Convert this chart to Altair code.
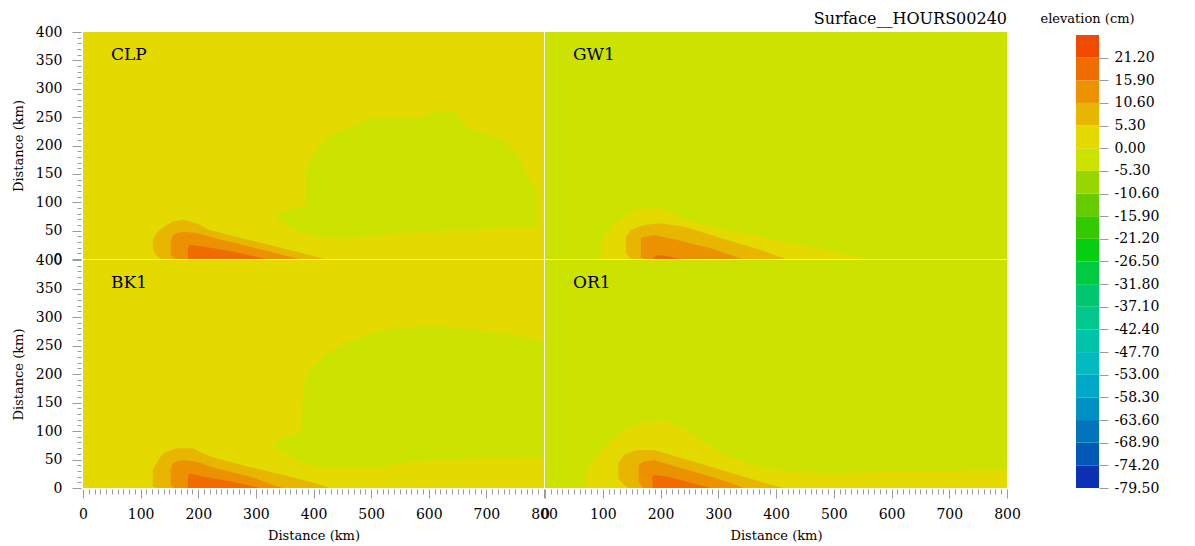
import altair as alt
import pandas as pd

FONT = "DejaVu Serif"

# colour bar boundaries (cm), bottom to top, and the colour of each band
CB_BOUNDS = [-79.5, -74.2, -68.9, -63.6, -58.3, -53.0, -47.7, -42.4, -37.1, -31.8,
             -26.5, -21.2, -15.9, -10.6, -5.3, 0.0, 5.3, 10.6, 15.9, 21.2, 26.5]
CB_TICKS = [-79.5, -74.2, -68.9, -63.6, -58.3, -53.0, -47.7, -42.4, -37.1, -31.8,
            -26.5, -21.2, -15.9, -10.6, -5.3, 0.0, 5.3, 10.6, 15.9, 21.2]
CB_COLORS = ["#0A32B2", "#0058B8", "#0074BE", "#0090C4", "#00A8C8", "#00BCC0",
             "#00C4A8", "#00C690", "#00C870", "#00CA40", "#06CE10", "#34CA00",
             "#66CC00", "#98D600", "#CCE200", "#E4DA00", "#E8B600", "#EC9200",
             "#F06C00", "#F04A00"]
LEVEL_KEYS = ["%.2f" % v for v in CB_BOUNDS[:-1]]

X_TICKS = list(range(0, 801, 10))
Y_TICKS = list(range(0, 401, 10))

PANELS = ["CLP", "GW1", "BK1", "OR1"]
BACKGROUND = {"CLP": 0.0, "GW1": -5.3, "BK1": 0.0, "OR1": -5.3}
FULL_X = [0, 800]
FULL_LO = [0, 0]
FULL_HI = [400, 400]

# ---- contour regions: (level, x, lower y, upper y) ----
CLP_BLOB_X = [336, 363, 387, 388, 398, 410, 427, 439, 462, 473, 497, 526, 537, 578,
              606, 618, 641, 647, 653, 664, 711, 734, 751, 763, 774, 783, 789]
CLP_BLOB_LO = [70, 54, 45, 45, 42, 39, 38, 37, 36, 37, 40, 44, 45, 48,
               50, 50, 51, 51, 52, 52, 54, 55, 55, 56, 56, 57, 57]
CLP_BLOB_HI = [80, 89, 95, 160, 183, 198, 215, 224, 231, 236, 248, 251, 250, 248,
               257, 261, 261, 255, 248, 233, 218, 207, 186, 166, 142, 127, 113]
CLP_W1_X = [121, 125, 136, 156, 174, 197, 220, 289, 347, 417, 420]
CLP_W1_LO = [20, 8, 0, 0, 0, 0, 0, 0, 0, 0, 0]
CLP_W1_HI = [33, 42, 54, 66, 69, 63, 51, 33.5, 19, 1, 0]
CLP_W2_X = [152, 156, 160, 174, 197, 231, 289, 347, 376]
CLP_W2_LO = [7, 3, 0, 0, 0, 0, 0, 0, 0]
CLP_W2_HI = [33, 42, 45, 48, 46, 36, 22, 7, 0]
CLP_W3_X = [182, 185, 208, 260, 318]
CLP_W3_LO = [0, 0, 0, 0, 0]
CLP_W3_HI = [20, 25, 22, 13, 0]

GW1_Y_X = [96, 100, 114, 143, 171, 200, 223, 241, 316, 402, 489, 518, 560]
GW1_Y_LO = [0, 0, 0, 0, 0, 0, 0, 0, 0, 0, 0, 0, 0]
GW1_Y_HI = [22, 35, 57, 80.5, 89, 89, 80.5, 69, 51, 33.5, 16, 9, 0]
GW1_W1_X = [140, 148, 171, 200, 241, 316, 374, 414, 418]
GW1_W1_LO = [10, 0, 0, 0, 0, 0, 0, 0, 0]
GW1_W1_HI = [39, 51, 60, 63, 57, 33.5, 16, 1, 0]
GW1_W2_X = [166, 171, 189, 229, 287, 322, 340]
GW1_W2_LO = [3, 0, 0, 0, 0, 0, 0]
GW1_W2_HI = [36, 39, 42, 33.5, 19, 7, 0]
GW1_W3_X = [188, 195, 215, 235]
GW1_W3_LO = [0, 0, 0, 0]
GW1_W3_HI = [3, 7, 5, 0]

BK1_BLOB_X = [332, 363, 380, 381, 387, 395, 421, 456, 479, 497, 537, 549, 606, 612, 682, 711, 769, 800]
BK1_BLOB_LO = [70, 55, 44, 44, 42, 40, 37, 35, 34.5, 36, 41, 43, 49, 49, 52, 53, 54, 55]
BK1_BLOB_HI = [79, 93, 101, 154, 195, 207, 236, 254, 263, 271, 280, 281, 286, 286, 278, 274, 265, 257]
BK1_W1_X = [121, 130, 139, 162, 191, 208, 231, 289, 347, 405, 428]
BK1_W1_LO = [2, 0, 0, 0, 0, 0, 0, 0, 0, 0, 0]
BK1_W1_HI = [32, 48, 61, 69.6, 69.6, 61, 52, 37, 23, 8, 0]
BK1_W2_X = [152, 156, 160, 174, 197, 231, 289, 324, 347]
BK1_W2_LO = [5, 2, 0, 0, 0, 0, 0, 0, 0]
BK1_W2_HI = [33, 43, 46, 49, 46, 34.5, 20, 8, 0]
BK1_W3_X = [182, 185, 208, 260, 307]
BK1_W3_LO = [0, 0, 0, 0, 0]
BK1_W3_HI = [20, 25.7, 20, 11, 0]

OR1_Y_X = [70, 79, 102, 131, 166, 206, 235, 270, 316, 374, 431, 489, 575, 800]
OR1_Y_LO = [0, 0, 0, 0, 0, 0, 0, 0, 0, 0, 0, 0, 0, 0]
OR1_Y_HI = [29, 43, 72.5, 99, 116, 119, 107.6, 84, 55, 37, 28.6, 25.7, 28.6, 31.6]
OR1_W1_X = [127, 137, 145, 160, 189, 218, 258, 316, 374, 413]
OR1_W1_LO = [17, 5, 0, 0, 0, 0, 0, 0, 0, 0]
OR1_W1_HI = [43, 58, 62, 66.7, 66.7, 58, 46, 28.6, 11, 0]
OR1_W2_X = [162, 166, 170, 189, 229, 287, 333, 344]
OR1_W2_LO = [12, 5, 0, 0, 0, 0, 0, 0]
OR1_W2_HI = [40, 43, 46, 49, 37, 20, 5, 0]
OR1_W3_X = [186, 189, 212, 258, 287]
OR1_W3_LO = [0, 0, 0, 0, 0]
OR1_W3_HI = [20, 23, 20, 8, 0]

REGIONS = {
    "CLP": [(-5.3, CLP_BLOB_X, CLP_BLOB_LO, CLP_BLOB_HI),
            (5.3, CLP_W1_X, CLP_W1_LO, CLP_W1_HI),
            (10.6, CLP_W2_X, CLP_W2_LO, CLP_W2_HI),
            (15.9, CLP_W3_X, CLP_W3_LO, CLP_W3_HI)],
    "GW1": [(0.0, GW1_Y_X, GW1_Y_LO, GW1_Y_HI),
            (5.3, GW1_W1_X, GW1_W1_LO, GW1_W1_HI),
            (10.6, GW1_W2_X, GW1_W2_LO, GW1_W2_HI),
            (15.9, GW1_W3_X, GW1_W3_LO, GW1_W3_HI)],
    "BK1": [(-5.3, BK1_BLOB_X, BK1_BLOB_LO, BK1_BLOB_HI),
            (5.3, BK1_W1_X, BK1_W1_LO, BK1_W1_HI),
            (10.6, BK1_W2_X, BK1_W2_LO, BK1_W2_HI),
            (15.9, BK1_W3_X, BK1_W3_LO, BK1_W3_HI)],
    "OR1": [(0.0, OR1_Y_X, OR1_Y_LO, OR1_Y_HI),
            (5.3, OR1_W1_X, OR1_W1_LO, OR1_W1_HI),
            (10.6, OR1_W2_X, OR1_W2_LO, OR1_W2_HI),
            (15.9, OR1_W3_X, OR1_W3_LO, OR1_W3_HI)],
}

color_scale = alt.Scale(domain=LEVEL_KEYS, range=CB_COLORS)
xs = alt.Scale(domain=[0, 800], nice=False, zero=False)
ys = alt.Scale(domain=[0, 400], nice=False, zero=False)

common_axis = dict(domain=False, grid=False, tickColor="#9c9c9c", labelFont=FONT,
                   labelFontSize=14, labelColor="black", titleFont=FONT,
                   titleFontSize=13, titleFontWeight="normal", titleColor="black",
                   labelFlush=False, labelOverlap=False, labelBound=False)

x_axis = alt.Axis(values=X_TICKS, format="d",
                  labelExpr="datum.value % 100 === 0 ? datum.label : ''",
                  tickSize={"condition": {"test": "datum.value % 100 === 0", "value": 9}, "value": 5},
                  labelPadding=9, titlePadding=8, offset=1, **common_axis)
y_axis = alt.Axis(values=Y_TICKS, format="d",
                  labelExpr="datum.value % 50 === 0 ? datum.label : ''",
                  tickSize={"condition": {"test": "datum.value % 50 === 0", "value": 9}, "value": 4},
                  labelPadding=10, titlePadding=10, offset=2, **common_axis)


def region_layer(level, xv, lo, hi, show_x, show_y):
    df = pd.DataFrame({"x": xv, "lo": lo, "hi": hi, "level": "%.2f" % level})
    return alt.Chart(df).mark_area(interpolate="linear", strokeWidth=0).encode(
        x=alt.X("x:Q", scale=xs, axis=x_axis if show_x else None, title="Distance (km)"),
        y=alt.Y("lo:Q", scale=ys, axis=y_axis if show_y else None, title="Distance (km)"),
        y2=alt.Y2("hi:Q"),
        color=alt.Color("level:N", scale=color_scale, legend=None),
    )


def panel(name, show_x, show_y, width, height, title=None):
    layers = [region_layer(BACKGROUND[name], FULL_X, FULL_LO, FULL_HI, show_x, show_y)]
    for lvl, xv, lo, hi in REGIONS[name]:
        layers.append(region_layer(lvl, xv, lo, hi, show_x, show_y))
    label = alt.Chart(pd.DataFrame({"name": [name]})).mark_text(
        align="left", baseline="middle", font=FONT, fontSize=17, color="black"
    ).encode(text="name:N", x=alt.value(28), y=alt.value(23))
    layers.append(label)
    props = dict(width=width, height=height)
    if title:
        props["title"] = alt.TitleParams(title, anchor="end", font=FONT, fontSize=16,
                                         fontWeight="normal", color="black", offset=5)
    return alt.layer(*layers).properties(**props)


grid = alt.concat(
    panel("CLP", False, True, 461, 227),
    panel("GW1", False, False, 462, 227, "Surface__HOURS00240"),
    panel("BK1", True, True, 461, 228),
    panel("OR1", True, False, 462, 228),
    columns=2, spacing=1, bounds="flush",
)

cb_df = pd.DataFrame({"lo": CB_BOUNDS[:-1], "hi": CB_BOUNDS[1:], "level": LEVEL_KEYS})
colorbar = alt.Chart(cb_df).mark_rect(strokeWidth=0).encode(
    x=alt.value(0), x2=alt.value(23),
    y=alt.Y("lo:Q", scale=alt.Scale(domain=[-79.5, 27.2], nice=False, zero=False),
            axis=alt.Axis(orient="right", values=CB_TICKS,
                          labelExpr="(datum.value < 0 ? '-' : '') + format(abs(datum.value), '.2f')",
                          tickSize=9, tickColor="#9c9c9c", domain=False, grid=False,
                          labelFont=FONT, labelFontSize=14, labelColor="black",
                          labelPadding=6, labelFlush=False, labelOverlap=False, title=None)),
    y2="hi:Q",
    color=alt.Color("level:N", scale=color_scale, legend=None),
).properties(width=23, height=456,
             title=alt.TitleParams("elevation (cm)", font=FONT, fontSize=13,
                                   fontWeight="normal", color="black", offset=6))

chart = alt.hconcat(grid, colorbar, spacing=19).properties(
    padding={"left": 12, "top": 11, "right": 5, "bottom": 0}
).configure_view(stroke=None)

chart.save("out.html", embed_options={"renderer": "svg", "actions": False})
